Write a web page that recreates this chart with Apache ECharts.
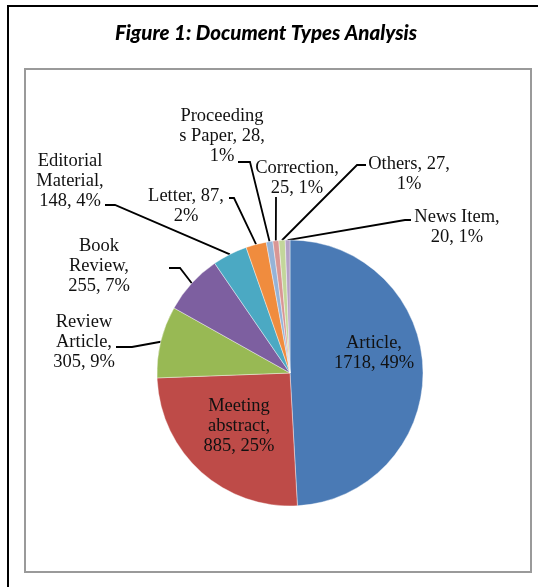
<!DOCTYPE html>
<html><head><meta charset="utf-8">
<script src="https://cdn.jsdelivr.net/npm/echarts@6/dist/echarts.min.js"></script>
<style>html,body{margin:0;padding:0;background:#fff}#c{width:538px;height:587px}</style>
</head><body><div id="c"></div>
<script>
const categories = ['Article','Meeting abstract','Review Article','Book Review','Editorial Material','Letter','Proceedings Paper','Correction','Others','News Item'];
const counts = [1718,885,305,255,148,87,28,25,27,20];
const labelTemplates = ['Article,\n{c}, {d}%','Meeting\nabstract,\n{c}, {d}%','Review\nArticle,\n{c}, {d}%','Book\nReview,\n{c}, {d}%','Editorial\nMaterial,\n{c}, {d}%','Letter, {c},\n{d}%','Proceeding\ns Paper, {c},\n{d}%','Correction,\n{c}, {d}%','Others, {c},\n{d}%','News Item,\n{c}, {d}%'];
const sliceColors = ['#4A7AB5','#BE4B48','#98B954','#7D5FA0','#4BA9C3','#F08C3E','#95B3D7','#D99694','#C3D69B','#B3A2C7'];
const insideLabels = ['Article','Meeting abstract'];

// label block centres and leader-line elbow/end points, by category
const labelPlacement = {
  'Article': {c:[374,353]},
  'Meeting abstract': {c:[239,426]},
  'Review Article': {c:[84,342], elbow:[132,347], end:[116,347]},
  'Book Review': {c:[99,266], elbow:[180,268], end:[169,268]},
  'Editorial Material': {c:[70,181], elbow:[115,205], end:[105,205]},
  'Letter': {c:[186,206], elbow:[234,198], end:[229,198]},
  'Proceedings Paper': {c:[222,136], elbow:[250,162], end:[238,162]},
  'Correction': {c:[297,178], elbow:[276,199], end:[276,197]},
  'Others': {c:[409,174], elbow:[357,165], end:[366,165]},
  'News Item': {c:[457,227], elbow:[405,220], end:[411,220]}
};

const chart = echarts.init(document.getElementById('c'), null, {renderer:'canvas'});

function sliceEdgePoint(idx) {
  const data = chart.getModel().getSeriesByIndex(0).getData();
  const l = data.getItemLayout(idx);
  const mid = (l.startAngle + l.endAngle) / 2;
  return [l.cx + l.r * Math.cos(mid), l.cy + l.r * Math.sin(mid)];
}

const seriesData = categories.map((name, i) => {
  const inside = insideLabels.indexOf(name) >= 0;
  return {
    name: name,
    value: counts[i],
    itemStyle: {color: sliceColors[i]},
    label: {position: inside ? 'inside' : 'outside'},
    labelLine: {show: !inside}
  };
});

chart.setOption({
  animation: false,
  title: {
    text: 'Figure 1: Document Types Analysis',
    left: 261, top: 18, textAlign: 'center',
    textStyle: {fontFamily: 'Lato', fontWeight: 900, fontStyle: 'italic', fontSize: 20.5, color: '#000'}
  },
  graphic: [
    {type:'rect', shape:{x:8, y:6, width:560, height:620}, style:{fill:'none', stroke:'#000', lineWidth:2}, silent:true},
    {type:'rect', shape:{x:25, y:69, width:506, height:503}, style:{fill:'none', stroke:'#9a9a9a', lineWidth:2}, silent:true}
  ],
  series: [{
    type: 'pie',
    center: [290, 373],
    radius: 133,
    startAngle: 90,
    clockwise: true,
    percentPrecision: 0,
    avoidLabelOverlap: false,
    emphasis: {disabled: true},
    itemStyle: {borderColor: '#ffffff', borderWidth: 0.4},
    label: {
      show: true,
      fontFamily: '"Liberation Serif", "Times New Roman", serif',
      fontSize: 18.5,
      lineHeight: 20,
      color: '#111',
      align: 'center',
      formatter: p => labelTemplates[p.dataIndex].replace('{c}', p.value).replace('{d}', p.percent)
    },
    labelLine: {show: true, lineStyle: {color: '#000', width: 1.8}},
    labelLayout: function (params) {
      const name = categories[params.dataIndex];
      const pl = labelPlacement[name];
      const out = {x: pl.c[0], y: pl.c[1], align: 'center', verticalAlign: 'middle'};
      if (pl.elbow) {
        const start = sliceEdgePoint(params.dataIndex);
        out.labelLinePoints = [start, pl.elbow, pl.end];
      }
      return out;
    },
    data: seriesData
  }]
});
</script>
</body></html>
